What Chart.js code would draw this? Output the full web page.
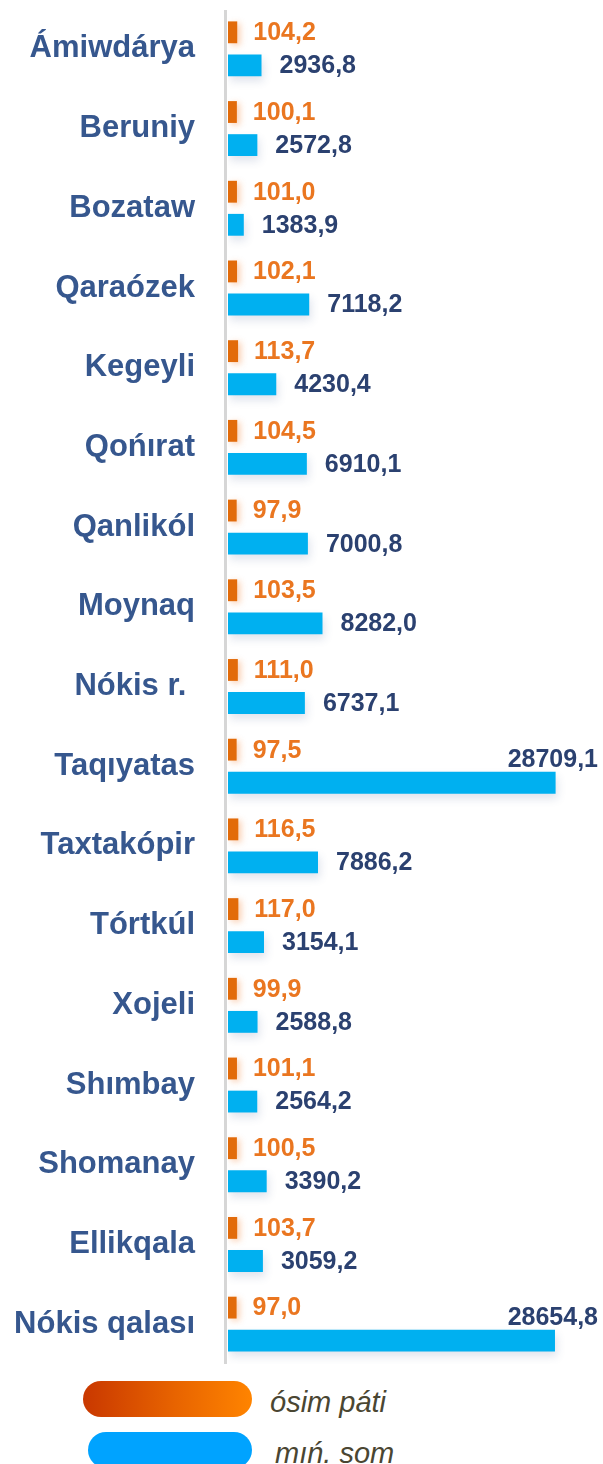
<!DOCTYPE html>
<html>
<head>
<meta charset="utf-8">
<script src="https://cdn.jsdelivr.net/npm/chart.js@4.4.1/dist/chart.umd.min.js"></script>
<style>
  html, body { margin: 0; padding: 0; background: #ffffff; }
  #wrap { position: relative; width: 603px; height: 1464px; overflow: hidden; }
  #chart { position: absolute; left: 0; top: 0; }
  .pill { position: absolute; height: 36px; border-radius: 18px; }
  .pill.orange { left: 83px; top: 1381px; width: 169px; background: linear-gradient(90deg, #c93800 0%, #e86400 55%, #ff8400 100%); }
  .pill.blue { left: 88px; top: 1432px; width: 164px; background: #00a3ff; }
  .ltext { position: absolute; font-family: "Liberation Sans", Arial, sans-serif; font-style: italic; font-size: 29px; color: #4a4632; line-height: 36px; }
</style>
</head>
<body>
<div id="wrap">
  <canvas id="chart" width="603" height="1370"></canvas>
  <div class="pill orange"></div>
  <div class="ltext" style="left:270px; top:1384px;">ósim páti</div>
  <div class="pill blue"></div>
  <div class="ltext" style="left:275px; top:1435px;">mıń. som</div>
</div>
<script>
// Districts and their figures
const districts = [
  'Ámiwdárya', 'Beruniy', 'Bozataw', 'Qaraózek', 'Kegeyli', 'Qońırat',
  'Qanlikól', 'Moynaq', 'Nókis r. ', 'Taqıyatas', 'Taxtakópir', 'Tórtkúl',
  'Xojeli', 'Shımbay', 'Shomanay', 'Ellikqala', 'Nókis qalası'
];
const growthRate = [104.2, 100.1, 101.0, 102.1, 113.7, 104.5, 97.9, 103.5, 111.0, 97.5, 116.5, 117.0, 99.9, 101.1, 100.5, 103.7, 97.0];
const volumeThousand = [2936.8, 2572.8, 1383.9, 7118.2, 4230.4, 6910.1, 7000.8, 8282.0, 6737.1, 28709.1, 7886.2, 3154.1, 2588.8, 2564.2, 3390.2, 3059.2, 28654.8];
const seriesNames = ['ósim páti', 'mıń. som'];

const FONT = '"Liberation Sans", Arial, sans-serif';
const fmt = v => v.toFixed(1).replace('.', ',');

// Soft drop shadow under the bars
const barShadow = {
  id: 'barShadow',
  beforeDatasetDraw(chart, args) {
    const ctx = chart.ctx;
    ctx.save();
    if (args.index === 0) {
      ctx.shadowColor = 'rgba(240,120,40,0.35)';
      ctx.shadowBlur = 6;
      ctx.shadowOffsetX = 3;
      ctx.shadowOffsetY = 2;
    } else {
      ctx.shadowColor = 'rgba(60,90,140,0.16)';
      ctx.shadowBlur = 8;
      ctx.shadowOffsetX = 2;
      ctx.shadowOffsetY = 5;
    }
  },
  afterDatasetDraw(chart) {
    chart.ctx.restore();
  }
};

// Vertical base line left of the bars
const baseLine = {
  id: 'baseLine',
  beforeDatasetsDraw(chart) {
    const { ctx, chartArea } = chart;
    ctx.save();
    ctx.strokeStyle = '#d6d6d6';
    ctx.lineWidth = 3;
    ctx.beginPath();
    ctx.moveTo(chartArea.left - 2.5, chartArea.top + 1);
    ctx.lineTo(chartArea.left - 2.5, chartArea.bottom);
    ctx.stroke();
    ctx.restore();
  }
};

// Value labels beside each bar
const valueLabels = {
  id: 'valueLabels',
  afterDatasetsDraw(chart) {
    const ctx = chart.ctx;
    const W = chart.width;
    ctx.save();
    ctx.font = 'bold 25px ' + FONT;
    chart.data.datasets.forEach((ds, di) => {
      const meta = chart.getDatasetMeta(di);
      meta.data.forEach((bar, i) => {
        const txt = fmt(ds.data[i]);
        const tw = ctx.measureText(txt).width;
        ctx.fillStyle = di === 0 ? '#ea7620' : '#2b4170';
        ctx.textBaseline = 'middle';
        let x = bar.x + (di === 0 ? 16 : 18);
        if (x + tw > W - 4) {
          ctx.textAlign = 'right';
          ctx.fillText(txt, W - 5, bar.y - bar.height / 2 - 12);
        } else {
          ctx.textAlign = 'left';
          ctx.fillText(txt, x, bar.y + 1);
        }
      });
    });
    ctx.restore();
  }
};

new Chart(document.getElementById('chart'), {
  type: 'bar',
  data: {
    labels: districts,
    datasets: [
      {
        label: seriesNames[0],
        data: growthRate,
        backgroundColor: '#e26b0a',
        xAxisID: 'x2',
        categoryPercentage: 0.83,
        barPercentage: 0.66
      },
      {
        label: seriesNames[1],
        data: volumeThousand,
        backgroundColor: '#00b0f0',
        xAxisID: 'x',
        categoryPercentage: 0.83,
        barPercentage: 0.66
      }
    ]
  },
  options: {
    indexAxis: 'y',
    responsive: false,
    animation: false,
    layout: { padding: { top: 9, bottom: 6, right: 3, left: 0 } },
    plugins: {
      legend: { display: false },
      tooltip: { enabled: false }
    },
    scales: {
      x: { display: false, min: 0, max: 32600 },
      x2: { display: false, min: 0, max: 4200 },
      y: {
        afterFit(scale) {
          scale.width = 228;
          scale.paddingTop = 0;
          scale.paddingBottom = 0;
        },
        grid: { display: false, drawTicks: false },
        border: { display: false },
        ticks: {
          padding: 33,
          color: '#36578e',
          font: { family: FONT, size: 31, weight: 'bold' }
        }
      }
    }
  },
  plugins: [baseLine, barShadow, valueLabels]
});
</script>
</body>
</html>
